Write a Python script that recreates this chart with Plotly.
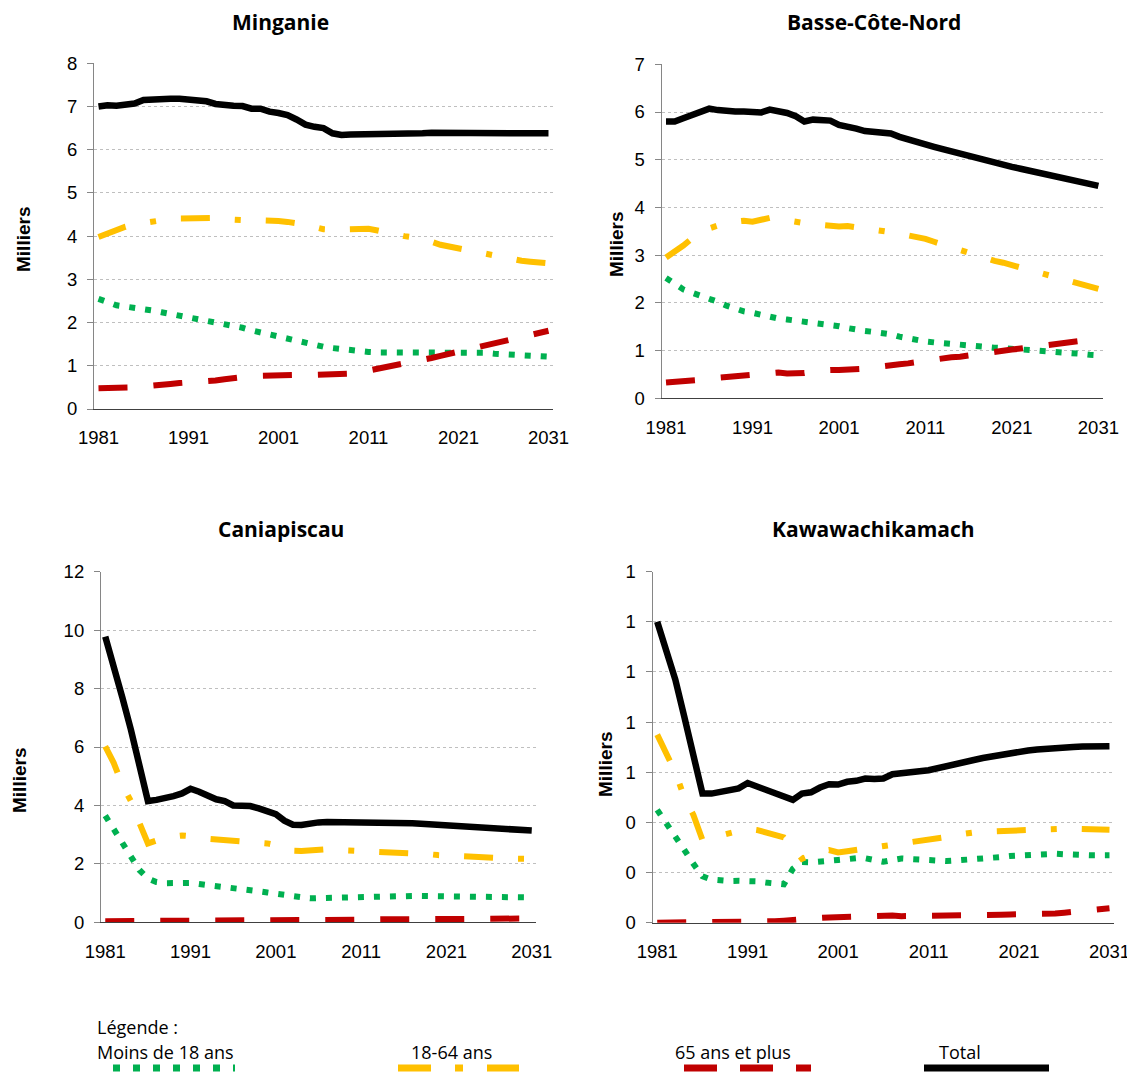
import plotly.graph_objects as go

YEARS = list(range(1981, 2032))

# Minganie (milliers)
MINGANIE_MOINS18 = [2.55, 2.47, 2.40, 2.37, 2.35, 2.32, 2.28, 2.24, 2.20, 2.17,
                    2.14, 2.09, 2.03, 1.99, 1.96, 1.92, 1.88, 1.82, 1.77, 1.72,
                    1.68, 1.64, 1.58, 1.53, 1.48, 1.44, 1.41, 1.38, 1.35, 1.33,
                    1.32, 1.31, 1.31, 1.31, 1.31, 1.31, 1.31, 1.32, 1.32, 1.32,
                    1.32, 1.32, 1.31, 1.30, 1.28, 1.27, 1.25, 1.24, 1.23, 1.22,
                    1.21]
MINGANIE_18_64 = [3.98, 4.07, 4.15, 4.22, 4.27, 4.31, 4.34, 4.37, 4.40, 4.41,
                  4.41, 4.42, 4.44, 4.42, 4.39, 4.37, 4.37, 4.37, 4.37, 4.37,
                  4.35, 4.33, 4.31, 4.27, 4.21, 4.16, 4.15, 4.16, 4.18, 4.18,
                  4.17, 4.13, 4.08, 4.04, 4.00, 3.97, 3.93, 3.87, 3.80, 3.76,
                  3.71, 3.66, 3.62, 3.57, 3.53, 3.49, 3.46, 3.43, 3.41, 3.39,
                  3.37]
MINGANIE_65PLUS = [0.48, 0.48, 0.48, 0.48, 0.50, 0.52, 0.55, 0.57, 0.58, 0.60,
                   0.61, 0.62, 0.64, 0.66, 0.69, 0.72, 0.74, 0.76, 0.77, 0.78,
                   0.79, 0.79, 0.79, 0.79, 0.79, 0.79, 0.79, 0.80, 0.82, 0.85,
                   0.89, 0.93, 0.96, 0.99, 1.03, 1.08, 1.13, 1.18, 1.23, 1.28,
                   1.32, 1.37, 1.42, 1.48, 1.54, 1.58, 1.62, 1.66, 1.71, 1.77,
                   1.81]
MINGANIE_TOTAL = [7.00, 7.03, 7.02, 7.05, 7.07, 7.15, 7.17, 7.17, 7.18, 7.18,
                  7.17, 7.13, 7.12, 7.06, 7.03, 7.02, 7.01, 6.95, 6.95, 6.88,
                  6.85, 6.80, 6.70, 6.58, 6.53, 6.50, 6.38, 6.34, 6.35, 6.35,
                  6.36, 6.36, 6.37, 6.37, 6.38, 6.38, 6.38, 6.39, 6.39, 6.40,
                  6.40, 6.41, 6.41, 6.41, 6.41, 6.41, 6.41, 6.40, 6.40, 6.39,
                  6.38]

# Basse-Côte-Nord
BCN_MOINS18 = [2.52, 2.40, 2.28, 2.21, 2.15, 2.10, 2.02, 1.94, 1.87, 1.82,
               1.79, 1.74, 1.70, 1.67, 1.65, 1.63, 1.61, 1.60, 1.58, 1.55,
               1.51, 1.47, 1.43, 1.41, 1.39, 1.38, 1.34, 1.29, 1.25, 1.21,
               1.19, 1.17, 1.15, 1.13, 1.11, 1.09, 1.08, 1.07, 1.06, 1.05,
               1.04, 1.03, 1.02, 1.01, 1.00, 0.98, 0.97, 0.95, 0.93, 0.91,
               0.90]
BCN_18_64 = [2.95, 3.07, 3.20, 3.35, 3.47, 3.56, 3.62, 3.67, 3.70, 3.72,
             3.70, 3.74, 3.78, 3.76, 3.72, 3.69, 3.67, 3.65, 3.63, 3.62,
             3.60, 3.61, 3.59, 3.55, 3.52, 3.50, 3.48, 3.45, 3.42, 3.39,
             3.34, 3.28, 3.22, 3.16, 3.10, 3.05, 3.00, 2.94, 2.88, 2.84,
             2.79, 2.74, 2.70, 2.64, 2.58, 2.54, 2.48, 2.42, 2.37, 2.33,
             2.29]
BCN_65PLUS = [0.33, 0.34, 0.35, 0.35, 0.37, 0.40, 0.43, 0.45, 0.46, 0.47,
              0.49, 0.52, 0.54, 0.54, 0.52, 0.51, 0.53, 0.56, 0.59, 0.59,
              0.59, 0.59, 0.60, 0.62, 0.65, 0.68, 0.70, 0.71, 0.73, 0.76,
              0.79, 0.82, 0.84, 0.86, 0.87, 0.90, 0.93, 0.96, 0.98, 1.00,
              1.02, 1.04, 1.06, 1.09, 1.11, 1.13, 1.15, 1.17, 1.19, 1.22,
              1.25]
BCN_TOTAL = [5.80, 5.80, 5.87, 5.94, 6.00, 6.07, 6.04, 6.01, 6.01, 6.01,
             5.99, 5.99, 6.05, 6.03, 5.98, 5.91, 5.80, 5.84, 5.84, 5.82,
             5.73, 5.70, 5.65, 5.60, 5.58, 5.58, 5.55, 5.48, 5.42, 5.37,
             5.32, 5.27, 5.22, 5.17, 5.12, 5.07, 5.02, 4.98, 4.94, 4.90,
             4.85, 4.81, 4.77, 4.74, 4.70, 4.66, 4.62, 4.58, 4.54, 4.50,
             4.45]

# Caniapiscau
CANIA_MOINS18 = [3.65, 3.18, 2.73, 2.25, 1.79, 1.50, 1.38, 1.34, 1.35, 1.37,
                 1.35, 1.31, 1.28, 1.25, 1.20, 1.14, 1.12, 1.09, 1.06, 1.02,
                 0.98, 0.93, 0.88, 0.84, 0.82, 0.83, 0.84, 0.85, 0.87, 0.88,
                 0.88, 0.89, 0.89, 0.90, 0.90, 0.90, 0.90, 0.90, 0.90, 0.90,
                 0.90, 0.90, 0.90, 0.90, 0.89, 0.88, 0.87, 0.86, 0.86, 0.85,
                 0.85]
CANIA_18_64 = [6.02, 5.45, 4.70, 4.15, 3.40, 2.70, 2.80, 2.88, 2.94, 2.97,
               2.96, 2.92, 2.86, 2.84, 2.82, 2.82, 2.80, 2.76, 2.73, 2.70,
               2.64, 2.55, 2.45, 2.44, 2.47, 2.50, 2.50, 2.48, 2.47, 2.46,
               2.46, 2.45, 2.43, 2.41, 2.41, 2.40, 2.38, 2.36, 2.33, 2.30,
               2.28, 2.27, 2.25, 2.23, 2.22, 2.21, 2.20, 2.19, 2.18, 2.18,
               2.17]
CANIA_65PLUS = [0.04, 0.04, 0.04, 0.04, 0.04, 0.04, 0.04, 0.04, 0.05, 0.06,
                0.07, 0.08, 0.09, 0.08, 0.06, 0.04, 0.04, 0.04, 0.04, 0.04,
                0.04, 0.04, 0.04, 0.05, 0.05, 0.06, 0.06, 0.07, 0.07, 0.08,
                0.08, 0.09, 0.10, 0.10, 0.10, 0.10, 0.11, 0.11, 0.12, 0.12,
                0.12, 0.12, 0.12, 0.13, 0.13, 0.13, 0.13, 0.13, 0.13, 0.13,
                0.13]
CANIA_TOTAL = [9.78, 8.80, 7.70, 6.60, 5.40, 4.15, 4.19, 4.24, 4.32, 4.41,
               4.57, 4.47, 4.33, 4.21, 4.15, 4.00, 3.99, 3.98, 3.90, 3.82,
               3.70, 3.48, 3.34, 3.33, 3.39, 3.42, 3.43, 3.43, 3.44, 3.44,
               3.44, 3.44, 3.43, 3.42, 3.41, 3.40, 3.39, 3.37, 3.35, 3.33,
               3.31, 3.29, 3.28, 3.26, 3.24, 3.22, 3.20, 3.19, 3.17, 3.16,
               3.14]

# Kawawachikamach
KAWA_MOINS18 = [0.450, 0.400, 0.345, 0.290, 0.235, 0.185, 0.172, 0.168, 0.166, 0.167,
                0.169, 0.165, 0.160, 0.157, 0.153, 0.215, 0.242, 0.241, 0.242, 0.247,
                0.250, 0.255, 0.257, 0.257, 0.250, 0.243, 0.250, 0.256, 0.254, 0.251,
                0.249, 0.247, 0.246, 0.248, 0.250, 0.252, 0.255, 0.257, 0.262, 0.266,
                0.269, 0.271, 0.274, 0.275, 0.275, 0.273, 0.270, 0.269, 0.269, 0.269,
                0.269]
KAWA_18_64 = [0.750, 0.680, 0.600, 0.500, 0.430, 0.330, 0.340, 0.350, 0.360, 0.370,
              0.375, 0.370, 0.360, 0.350, 0.340, 0.300, 0.255, 0.270, 0.285, 0.290,
              0.280, 0.285, 0.290, 0.295, 0.300, 0.305, 0.310, 0.315, 0.318, 0.322,
              0.328, 0.335, 0.342, 0.350, 0.357, 0.360, 0.363, 0.365, 0.366, 0.368,
              0.370, 0.372, 0.373, 0.374, 0.375, 0.375, 0.375, 0.375, 0.375, 0.373,
              0.371]
KAWA_65PLUS = [0.000, 0.000, 0.000, 0.000, 0.001, 0.002, 0.003, 0.004, 0.005, 0.005,
               0.005, 0.005, 0.005, 0.006, 0.008, 0.012, 0.015, 0.017, 0.019, 0.021,
               0.022, 0.023, 0.026, 0.029, 0.032, 0.031, 0.029, 0.026, 0.026, 0.027,
               0.029, 0.029, 0.029, 0.028, 0.028, 0.029, 0.030, 0.032, 0.032, 0.033,
               0.033, 0.033, 0.034, 0.035, 0.037, 0.040, 0.044, 0.047, 0.051, 0.055,
               0.058]
KAWA_TOTAL = [1.200, 1.080, 0.970, 0.820, 0.675, 0.515, 0.515, 0.520, 0.525, 0.536,
              0.557, 0.544, 0.530, 0.515, 0.508, 0.490, 0.515, 0.520, 0.539, 0.552,
              0.551, 0.562, 0.566, 0.575, 0.573, 0.575, 0.592, 0.598, 0.602, 0.604,
              0.608, 0.615, 0.622, 0.632, 0.641, 0.649, 0.657, 0.664, 0.671, 0.676,
              0.681, 0.687, 0.691, 0.695, 0.697, 0.700, 0.701, 0.703, 0.704, 0.704,
              0.704]

SERIES_NAMES = ["Moins de 18 ans", "18-64 ans", "65 ans et plus", "Total"]
X_TICKS = [1981, 1991, 2001, 2011, 2021, 2031]

OFF = 8  # page body margin in the browser
W, H = 1135 - OFF, 1080 - 2 * OFF
GREEN, YELLOW, RED, BLACK = "#00B050", "#FFC000", "#C00000", "#000000"
STYLES = [
    (GREEN, "6px,10px", 6),
    (YELLOW, "29px,25px,6px,25px", 6),
    (RED, "29px,26px", 6),
    (BLACK, "solid", 6.5),
]
TICK_FONT = dict(family="Liberation Sans, Arial, sans-serif", size=18.5, color="black")
TITLE_FONT = dict(family="Open Sans, sans-serif", size=21, color="black")


def fx(x):
    return (x - OFF) / W


def fy(y):
    return 1 - (y - OFF) / H


PANELS = [
    dict(title="Minganie", data=[MINGANIE_MOINS18, MINGANIE_18_64, MINGANIE_65PLUS, MINGANIE_TOTAL],
         box=(94, 63.3, 553, 409), ymax=8, dtick=1, fmt="", title_at=(280, 22), ylab_at=(23, 240)),
    dict(title="Basse-Côte-Nord", data=[BCN_MOINS18, BCN_18_64, BCN_65PLUS, BCN_TOTAL],
         box=(661.7, 64.3, 1102.7, 398.2), ymax=7, dtick=1, fmt="", title_at=(874, 22), ylab_at=(616, 245)),
    dict(title="Caniapiscau", data=[CANIA_MOINS18, CANIA_18_64, CANIA_65PLUS, CANIA_TOTAL],
         box=(101, 571.7, 536, 922.3), ymax=12, dtick=2, fmt="", title_at=(281, 529), ylab_at=(19, 781)),
    dict(title="Kawawachikamach", data=[KAWA_MOINS18, KAWA_18_64, KAWA_65PLUS, KAWA_TOTAL],
         box=(652.7, 571.7, 1114, 922.7), ymax=1.4, dtick=0.2, fmt=".0f", title_at=(873, 529), ylab_at=(605, 765)),
]

fig = go.Figure()
annotations = []
layout_axes = {}

for i, p in enumerate(PANELS):
    n = "" if i == 0 else str(i + 1)
    for name, values, (color, dash, width) in zip(SERIES_NAMES, p["data"], STYLES):
        fig.add_trace(go.Scatter(
            x=YEARS, y=values, name=name, mode="lines",
            line=dict(color=color, dash=dash, width=width),
            xaxis="x" + n, yaxis="y" + n, showlegend=False,
        ))
    x0, y0, x1, y1 = p["box"]
    layout_axes["xaxis" + n] = dict(
        domain=[fx(x0), fx(x1)], anchor="y" + n, range=[1980.5, 2031.5],
        tickvals=X_TICKS, ticks="", showgrid=False, zeroline=False,
        showline=True, linecolor="#404040", linewidth=1.2,
        tickfont=TICK_FONT, ticklabelstandoff=12, automargin=False,
        ticklabeloverflow="allow",
    )
    layout_axes["yaxis" + n] = dict(
        domain=[fy(y1), fy(y0)], anchor="x" + n, range=[0, p["ymax"]],
        dtick=p["dtick"], tickformat=p["fmt"], ticks="outside", ticklen=6,
        tickcolor="#868686", showline=True, linecolor="#868686", linewidth=1.2,
        showgrid=True, gridcolor="#BFBFBF", griddash="dot", gridwidth=1,
        zeroline=False, tickfont=TICK_FONT, ticklabelstandoff=6, automargin=False,
    )
    annotations.append(dict(
        text="<b>%s</b>" % p["title"], x=fx(p["title_at"][0]), y=fy(p["title_at"][1]),
        xref="paper", yref="paper", showarrow=False, font=TITLE_FONT,
        xanchor="center", yanchor="middle",
    ))
    annotations.append(dict(
        text="<b>Milliers</b>", x=fx(p["ylab_at"][0]), y=fy(p["ylab_at"][1]),
        xref="paper", yref="paper", showarrow=False, textangle=-90,
        font=dict(family="Liberation Sans, Arial, sans-serif", size=19, color="black"),
        xanchor="center", yanchor="middle",
    ))

# legend block at the bottom
LEG_FONT = dict(family="Open Sans, sans-serif", size=18, color="black")
annotations.append(dict(text="Légende :", x=fx(95), y=fy(1027), xref="paper", yref="paper",
                        showarrow=False, xanchor="left", yanchor="middle", font=LEG_FONT))
legend_items = [(95, 113, 235), (409, 398, 519), (673, 684, 811), (937, 924, 1049)]
shapes = []
for (tx, lx0, lx1), name, (color, dash, width) in zip(legend_items, SERIES_NAMES, STYLES):
    annotations.append(dict(text=name, x=fx(tx), y=fy(1052), xref="paper", yref="paper",
                            showarrow=False, xanchor="left", yanchor="middle", font=LEG_FONT))
    leg_dash = {GREEN: "7px,13px", YELLOW: "33px,24px,8px,24px", RED: "33px,23px"}.get(color, "solid")
    shapes.append(dict(type="line", xref="paper", yref="paper",
                       x0=fx(lx0), x1=fx(lx1), y0=fy(1068), y1=fy(1068),
                       line=dict(color=color, width=7, dash=leg_dash)))

fig.update_layout(
    width=W, height=H, autosize=False,
    margin=dict(l=0, r=0, t=0, b=0, autoexpand=False),
    paper_bgcolor="white", plot_bgcolor="white",
    annotations=annotations, shapes=shapes,
    **layout_axes,
)

fig.write_html("out.html")
